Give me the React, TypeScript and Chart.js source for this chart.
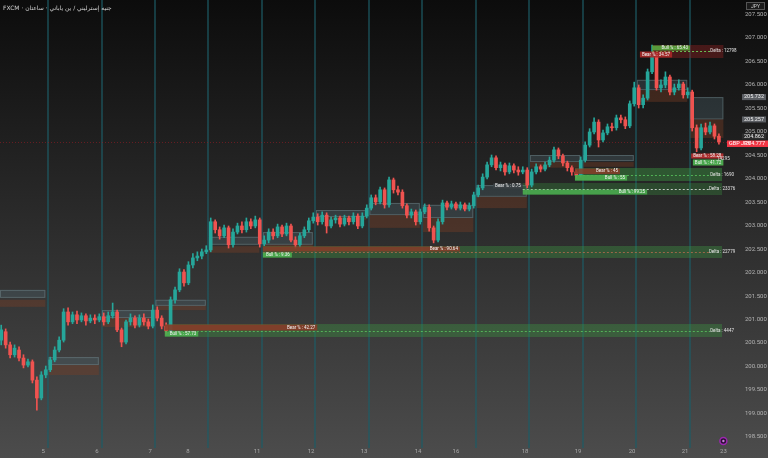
import React, { useEffect, useRef } from 'react';
import { Chart, registerables } from 'chart.js';

Chart.register(...registerables);

// ---------- candles (2H GBP/JPY) ----------
const OPEN = [
  200.56, 200.74, 200.46, 200.25, 200.35, 200.18, 200.03, 200.10, 199.71, 199.33,
  199.82, 199.93, 200.14, 200.35, 200.56, 201.16, 200.95, 201.10, 200.99, 201.08,
  200.97, 201.03, 200.99, 201.06, 200.95, 201.08, 201.16, 200.78, 200.52, 200.95,
  201.03, 200.88, 201.03, 200.95, 200.86, 201.20, 201.03, 200.86, 200.76, 201.42,
  201.63, 202.01, 201.78, 202.16, 202.31, 202.35, 202.44, 202.48, 203.08, 202.91,
  202.78, 202.95, 202.59, 202.86, 202.99, 202.91, 203.08, 202.99, 203.12, 202.61,
  202.69, 202.86, 202.78, 202.97, 202.82, 202.99, 202.69, 202.59, 202.78, 202.91,
  203.10, 203.18, 203.08, 203.22, 202.99, 203.12, 203.16, 203.03, 203.16, 203.08,
  203.20, 202.99, 203.20, 203.37, 203.59, 203.50, 203.76, 203.44, 203.97, 203.76,
  203.71, 203.42, 203.22, 203.29, 203.08, 203.29, 203.39, 202.95, 202.69, 203.08,
  203.48, 203.39, 203.46, 203.37, 203.44, 203.35, 203.42, 203.65, 203.80, 204.03,
  204.29, 204.44, 204.23, 204.29, 204.14, 204.27, 204.18, 204.14, 204.18, 203.86,
  204.14, 204.25, 204.20, 204.29, 204.39, 204.61, 204.48, 204.33, 204.23, 204.14,
  204.07, 204.39, 204.71, 204.99, 205.20, 204.82, 204.97, 205.10, 205.08, 205.29,
  205.25, 205.12, 205.59, 205.93, 205.57, 205.71, 206.27, 206.63, 205.93, 205.99,
  206.16, 205.84, 205.93, 206.01, 205.78, 205.84, 205.08, 204.65, 205.08, 204.99,
  205.12, 204.90,
];
const HIGH = [
  200.88, 200.80, 200.52, 200.46, 200.42, 200.25, 200.16, 200.14, 199.78, 199.89,
  200.01, 200.20, 200.42, 200.63, 201.23, 201.25, 201.16, 201.18, 201.14, 201.12,
  201.10, 201.10, 201.12, 201.14, 201.16, 201.35, 201.20, 200.82, 200.99, 201.12,
  201.08, 201.10, 201.12, 201.01, 201.31, 201.27, 201.08, 200.93, 201.48, 201.69,
  202.08, 202.06, 202.23, 202.40, 202.44, 202.50, 202.57, 203.16, 203.12, 202.97,
  203.01, 202.99, 202.93, 203.05, 203.08, 203.16, 203.14, 203.20, 203.16, 202.78,
  202.93, 202.93, 203.03, 203.01, 203.05, 203.03, 202.76, 202.84, 202.97, 203.16,
  203.27, 203.25, 203.29, 203.27, 203.18, 203.22, 203.20, 203.22, 203.20, 203.27,
  203.25, 203.27, 203.44, 203.65, 203.65, 203.82, 203.80, 204.03, 204.01, 203.84,
  203.76, 203.46, 203.35, 203.33, 203.35, 203.46, 203.44, 202.99, 203.14, 203.54,
  203.52, 203.52, 203.50, 203.50, 203.48, 203.48, 203.71, 203.86, 204.10, 204.35,
  204.50, 204.48, 204.35, 204.33, 204.33, 204.31, 204.25, 204.25, 204.23, 204.20,
  204.31, 204.29, 204.35, 204.46, 204.67, 204.65, 204.52, 204.37, 204.27, 204.18,
  204.46, 204.78, 205.06, 205.29, 205.25, 205.03, 205.16, 205.18, 205.35, 205.35,
  205.31, 205.65, 206.05, 205.99, 205.78, 206.33, 206.84, 206.69, 206.10, 206.27,
  206.20, 206.01, 206.10, 206.05, 205.93, 205.88, 205.14, 205.16, 205.18, 205.20,
  205.16, 204.95,
];
const LOW = [
  200.46, 200.39, 200.18, 200.20, 200.12, 199.97, 199.99, 199.65, 199.07, 199.29,
  199.76, 199.89, 200.10, 200.31, 200.52, 200.88, 200.91, 200.91, 200.95, 200.88,
  200.93, 200.91, 200.95, 200.88, 200.91, 201.03, 200.74, 200.42, 200.48, 200.88,
  200.82, 200.84, 200.88, 200.80, 200.82, 200.97, 200.80, 200.69, 200.71, 201.35,
  201.59, 201.71, 201.74, 202.10, 202.25, 202.29, 202.40, 202.44, 202.84, 202.71,
  202.74, 202.52, 202.54, 202.82, 202.84, 202.86, 202.93, 202.95, 202.54, 202.57,
  202.63, 202.71, 202.74, 202.76, 202.78, 202.65, 202.52, 202.54, 202.74, 202.86,
  203.05, 203.01, 203.03, 202.84, 202.95, 203.05, 202.97, 202.99, 203.01, 203.03,
  202.93, 202.95, 203.16, 203.33, 203.44, 203.46, 203.37, 203.39, 203.69, 203.65,
  203.37, 203.16, 203.16, 203.01, 203.03, 203.25, 202.88, 202.63, 202.65, 203.03,
  203.33, 203.35, 203.33, 203.33, 203.31, 203.31, 203.37, 203.61, 203.76, 203.99,
  204.25, 204.18, 204.16, 204.07, 204.10, 204.12, 204.07, 204.10, 203.80, 203.82,
  204.10, 204.14, 204.16, 204.25, 204.35, 204.42, 204.27, 204.16, 204.07, 204.01,
  204.03, 204.35, 204.67, 204.95, 204.67, 204.78, 204.93, 205.01, 205.03, 205.18,
  205.06, 205.08, 205.54, 205.50, 205.50, 205.67, 206.23, 205.88, 205.84, 205.93,
  205.78, 205.78, 205.88, 205.71, 205.71, 205.01, 204.57, 204.61, 204.93, 204.95,
  204.84, 204.73,
];
const CLOSE = [
  200.78, 200.46, 200.25, 200.39, 200.18, 200.03, 200.10, 199.71, 199.33, 199.82,
  199.93, 200.14, 200.35, 200.56, 201.16, 200.95, 201.10, 200.99, 201.08, 200.97,
  201.03, 200.99, 201.06, 200.95, 201.08, 201.16, 200.78, 200.52, 200.95, 201.03,
  200.88, 201.03, 200.95, 200.86, 201.20, 201.03, 200.86, 200.76, 201.42, 201.63,
  202.01, 201.78, 202.16, 202.31, 202.35, 202.44, 202.48, 203.08, 202.91, 202.78,
  202.95, 202.59, 202.86, 202.99, 202.91, 203.08, 202.99, 203.12, 202.61, 202.69,
  202.86, 202.78, 202.97, 202.82, 202.99, 202.69, 202.59, 202.78, 202.91, 203.10,
  203.18, 203.08, 203.22, 202.99, 203.12, 203.16, 203.03, 203.16, 203.08, 203.20,
  202.99, 203.20, 203.37, 203.59, 203.50, 203.76, 203.44, 203.97, 203.76, 203.71,
  203.42, 203.22, 203.29, 203.08, 203.29, 203.39, 202.95, 202.69, 203.08, 203.48,
  203.39, 203.46, 203.37, 203.44, 203.35, 203.42, 203.65, 203.80, 204.03, 204.29,
  204.44, 204.23, 204.29, 204.14, 204.27, 204.18, 204.14, 204.18, 203.86, 204.14,
  204.25, 204.20, 204.29, 204.39, 204.61, 204.48, 204.33, 204.23, 204.14, 204.07,
  204.39, 204.71, 204.99, 205.20, 204.82, 204.97, 205.10, 205.08, 205.29, 205.25,
  205.12, 205.59, 205.93, 205.57, 205.71, 206.27, 206.63, 205.93, 205.99, 206.16,
  205.84, 205.93, 206.01, 205.78, 205.84, 205.08, 204.65, 205.08, 204.99, 205.12,
  204.90, 204.78,
];

// ---------- axes ----------
const X_MIN = -0.27;
const X_MAX = 164.83;
const Y_MIN = 198.351;
const Y_MAX = 207.798;
const Y_TICKS = [198.5, 199, 199.5, 200, 200.5, 201, 201.5, 202, 202.5, 203, 203.5, 204, 204.5, 205, 205.5, 206, 206.5, 207, 207.5];
const X_TICKS = [9.4, 21.5, 33.4, 41.9, 57.4, 69.5, 81.4, 93.5, 102, 117.5, 129.4, 141.5, 153.4, 162];
const X_LABELS = ['5', '6', '7', '8', '11', '12', '13', '14', '16', '18', '19', '20', '21', '23'];
const DAY_BREAKS = [10.5, 22.5, 34.5, 46.5, 58.5, 70.5, 82.5, 94.5, 106.5, 118.5, 130.5, 142.5, 154.5];

// ---------- daily range boxes ----------
const BOX_START = [-0.3, 10.6, 22.6, 34.6, 46.6, 58.7, 70.6, 82.6, 94.6, 106.6, 118.6, 130.6, 142.6, 154.6];
const BOX_END = [9.9, 21.9, 33.9, 45.9, 57.9, 69.9, 81.9, 93.9, 105.9, 117.9, 129.9, 141.9, 153.9, 162.0];
const GRAY_TOP = [201.63, 200.20, 201.20, 201.42, 202.76, 202.86, 203.33, 203.48, 203.44, 203.86, 204.50, 204.50, 206.10, 205.732];
const GRAY_BOTTOM = [201.46, 200.03, 201.03, 201.29, 202.59, 202.59, 203.18, 203.22, 203.16, 203.61, 204.35, 204.37, 205.88, 205.257];
const BROWN_TOP = [201.42, 200.03, 201.03, 201.29, 202.56, 202.59, 203.18, 203.22, 203.16, 203.61, 204.35, 204.35, 205.88, 205.257];
const BROWN_BOTTOM = [201.27, 199.82, 200.84, 201.20, 202.42, 202.54, 203.12, 202.95, 202.86, 203.37, 204.23, 204.25, 205.63, 204.862];

// ---------- volume zones ----------
const ZONE_START = [36.7, 58.7, 128.7, 117.0, 146.0, 158.6];
const ZONE_END = [161.7, 161.7, 161.7, 161.7, 162.0, 162.0];
const ZONE_TOP = [200.904, 202.564, 204.223, 203.904, 206.841, 204.543];
const ZONE_MID = [200.755, 202.436, 204.085, 203.777, 206.713, 204.415];
const ZONE_BOTTOM = [200.628, 202.309, 203.947, 203.649, 206.564, 204.266];
const BEAR_PCT = ['42.27', '90.64', '45', '0.75', '34.57', '58.28'];
const BULL_PCT = ['57.73', '9.36', '55', '99.25', '65.43', '41.72'];
const BEAR_END = [70.9, 102.9, 138.8, 117.0, 150.5, 162.0];
const BULL_END = [44.2, 65.2, 140.4, 144.9, 154.5, 162.0];
const BULL_ON_TOP = [false, false, false, false, true, false];
const DELTA = ['Delta : 4447', 'Delta : 22779', 'Delta : 1690', 'Delta : 23376', 'Delta : 12798', '14295'];
const ZONE_FILL = ['rgba(60,150,66,0.38)', 'rgba(60,150,66,0.38)', 'rgba(60,150,66,0.45)', 'rgba(60,150,66,0.32)', 'rgba(150,36,36,0.40)', 'rgba(150,36,36,0.15)'];
const BEAR_FILL = ['rgba(135,60,40,0.9)', 'rgba(135,60,40,0.85)', 'rgba(135,60,40,0.85)', 'rgba(60,66,70,0.9)', 'rgba(170,40,40,0.9)', 'rgba(180,50,50,0.95)'];
const BULL_FILL = ['rgba(76,175,80,0.9)', 'rgba(76,175,80,0.9)', 'rgba(76,175,80,0.9)', 'rgba(76,175,80,0.85)', 'rgba(90,160,60,0.95)', 'rgba(76,175,80,0.95)'];
const MID_LINE = ['rgba(90,200,95,0.8)', 'rgba(200,110,80,0.7)', 'rgba(90,200,95,0.8)', 'rgba(235,235,235,0.8)', 'rgba(110,210,90,0.9)', 'rgba(0,0,0,0)'];

// ---------- price marks ----------
const MARK_PRICES = [205.732, 205.257, 204.862];
const MARK_BG = ['#5b5e63', '#5b5e63', '#2c2c2c'];
const LAST_PRICE = 204.777;
const SYMBOL = 'GBP JPY';
const HEADER = 'FXCM · جنيه إسترليني / ين ياباني · ساعتان';

const UP = '#26a69a';
const DOWN = '#ef5350';

const drawPlugin = {
  id: 'tvDecor',
  beforeDraw(chart: any) {
    const { ctx, width, height } = chart;
    const g = ctx.createLinearGradient(0, 0, 0, height);
    g.addColorStop(0, '#0c0c0c');
    g.addColorStop(1, '#4c4c4c');
    ctx.save();
    ctx.fillStyle = g;
    ctx.fillRect(0, 0, width, height);
    ctx.restore();
  },
  beforeDatasetsDraw(chart: any) {
    const { ctx, chartArea: ca } = chart;
    const xs = chart.scales.x;
    const ys = chart.scales.y;
    ctx.save();
    // session separators
    ctx.strokeStyle = 'rgba(28,92,102,0.6)';
    ctx.lineWidth = 2;
    DAY_BREAKS.forEach((b) => {
      const x = Math.round(xs.getPixelForValue(b));
      ctx.beginPath();
      ctx.moveTo(x, 0);
      ctx.lineTo(x, ca.bottom + 4);
      ctx.stroke();
    });
    // daily range boxes
    BOX_START.forEach((s, k) => {
      const xa = Math.max(ca.left, xs.getPixelForValue(s));
      const xb = xs.getPixelForValue(BOX_END[k]);
      const g1 = ys.getPixelForValue(GRAY_TOP[k]);
      const g2 = ys.getPixelForValue(GRAY_BOTTOM[k]);
      const b1 = ys.getPixelForValue(BROWN_TOP[k]);
      const b2 = ys.getPixelForValue(BROWN_BOTTOM[k]);
      ctx.fillStyle = 'rgba(78,104,112,0.32)';
      ctx.fillRect(xa, g1, xb - xa, g2 - g1);
      ctx.strokeStyle = 'rgba(125,150,155,0.4)';
      ctx.lineWidth = 1;
      ctx.strokeRect(xa + 0.5, g1 + 0.5, xb - xa - 1, g2 - g1 - 1);
      ctx.fillStyle = 'rgba(125,62,36,0.38)';
      ctx.fillRect(xa, b1, xb - xa, b2 - b1);
    });
    // zone fills
    ZONE_START.forEach((s, z) => {
      const xa = xs.getPixelForValue(s);
      const xb = xs.getPixelForValue(ZONE_END[z]);
      const yt = ys.getPixelForValue(ZONE_TOP[z]);
      const yb = ys.getPixelForValue(ZONE_BOTTOM[z]);
      ctx.fillStyle = ZONE_FILL[z];
      ctx.fillRect(xa, yt, xb - xa, yb - yt);
    });
    // last price line
    const yl = Math.round(ys.getPixelForValue(LAST_PRICE)) + 0.5;
    ctx.strokeStyle = 'rgba(150,28,36,0.6)';
    ctx.lineWidth = 1;
    ctx.setLineDash([1, 2]);
    ctx.beginPath();
    ctx.moveTo(ca.left, yl);
    ctx.lineTo(ca.right, yl);
    ctx.stroke();
    ctx.setLineDash([]);
    ctx.restore();
  },
  afterDatasetsDraw(chart: any) {
    const { ctx } = chart;
    const xs = chart.scales.x;
    const ys = chart.scales.y;
    ctx.save();
    ctx.font = '4.5px Roboto';
    ctx.textBaseline = 'middle';
    ZONE_START.forEach((s, z) => {
      const xa = xs.getPixelForValue(s);
      const xb = xs.getPixelForValue(ZONE_END[z]);
      const yt = ys.getPixelForValue(ZONE_TOP[z]);
      const ym = ys.getPixelForValue(ZONE_MID[z]);
      const yb = ys.getPixelForValue(ZONE_BOTTOM[z]);
      // mid dashed line
      ctx.strokeStyle = MID_LINE[z];
      ctx.lineWidth = 1;
      ctx.setLineDash([2, 2]);
      ctx.beginPath();
      ctx.moveTo(xa, Math.round(ym) + 0.5);
      ctx.lineTo(xb - 12, Math.round(ym) + 0.5);
      ctx.stroke();
      ctx.setLineDash([]);
      const bullTop = BULL_ON_TOP[z];
      const parts = [
        { end: BEAR_END[z], text: 'Bear % : ' + BEAR_PCT[z], fill: BEAR_FILL[z], y1: bullTop ? ym : yt, y2: bullTop ? yb : ym },
        { end: BULL_END[z], text: 'Bull % : ' + BULL_PCT[z], fill: BULL_FILL[z], y1: bullTop ? yt : ym, y2: bullTop ? ym : yb },
      ];
      parts.forEach((p) => {
        const xe = xs.getPixelForValue(p.end);
        const tw = ctx.measureText(p.text).width;
        const left = Math.min(xa, xe - tw - 4);
        ctx.fillStyle = p.fill;
        ctx.fillRect(left, p.y1 + 0.5, xe - left, p.y2 - p.y1 - 1);
        ctx.fillStyle = '#f2f2f2';
        ctx.textAlign = 'right';
        ctx.fillText(p.text, xe - 2, (p.y1 + p.y2) / 2);
      });
      ctx.textAlign = 'center';
      ctx.fillStyle = '#e6e6e6';
      ctx.fillText(DELTA[z], xb, ym);
    });
    ctx.restore();
  },
  afterDraw(chart: any) {
    const { ctx, width, chartArea: ca } = chart;
    const xs = chart.scales.x;
    const ys = chart.scales.y;
    ctx.save();
    // header
    ctx.font = '6px "DejaVu Sans"';
    ctx.textBaseline = 'middle';
    ctx.textAlign = 'left';
    ctx.fillStyle = '#cfcfcf';
    ctx.fillText(HEADER, 3, 8);
    // currency box
    ctx.fillStyle = '#1b1b1b';
    ctx.fillRect(746, 2, 19, 8);
    ctx.strokeStyle = '#555';
    ctx.strokeRect(746.5, 2.5, 18, 7);
    ctx.fillStyle = '#d0d0d0';
    ctx.font = '5px Roboto';
    ctx.textAlign = 'center';
    ctx.fillText('JPY', 755.5, 6.5);
    // price marks
    ctx.font = '5.5px Roboto';
    MARK_PRICES.forEach((p, k) => {
      const y = ys.getPixelForValue(p) - (k === 2 ? 1.5 : 0);
      ctx.fillStyle = MARK_BG[k];
      ctx.fillRect(742, y - 3, 24, 6);
      ctx.fillStyle = '#f0f0f0';
      ctx.textAlign = 'center';
      ctx.fillText(p.toFixed(3), 754, y);
    });
    const yl = ys.getPixelForValue(LAST_PRICE) + 1.5;
    ctx.fillStyle = '#f23645';
    ctx.fillRect(727, yl - 3, width - 727, 6.5);
    ctx.fillStyle = '#ffffff';
    ctx.textAlign = 'left';
    ctx.fillText(SYMBOL, 729, yl);
    ctx.textAlign = 'right';
    ctx.fillText(LAST_PRICE.toFixed(3), 765, yl);
    // event marker
    const xm = xs.getPixelForValue(162);
    const ymk = ca.bottom - 3;
    ctx.beginPath();
    ctx.arc(xm, ymk, 3.5, 0, Math.PI * 2);
    ctx.fillStyle = '#2a0f33';
    ctx.fill();
    ctx.lineWidth = 1.5;
    ctx.strokeStyle = '#9c27b0';
    ctx.stroke();
    ctx.beginPath();
    ctx.arc(xm, ymk, 1.2, 0, Math.PI * 2);
    ctx.fillStyle = '#c77dd8';
    ctx.fill();
    ctx.restore();
  },
};

export default function App() {
  const ref = useRef<HTMLCanvasElement>(null);
  useEffect(() => {
    document.body.style.margin = '0';
    document.body.style.background = '#2a2a2a';
    const canvas = ref.current;
    if (!canvas) return;
    const idx = CLOSE.map((_, i) => i);
    const colors = idx.map((i) => (CLOSE[i] >= OPEN[i] ? UP : DOWN));
    const chart = new Chart(canvas, {
      type: 'bar',
      data: {
        datasets: [
          {
            label: 'wick',
            data: idx.map((i) => ({ x: i, y: [LOW[i], HIGH[i]] })) as any,
            backgroundColor: colors,
            barThickness: 1,
            grouped: false,
            order: 2,
          } as any,
          {
            label: 'body',
            data: idx.map((i) => ({ x: i, y: [OPEN[i], CLOSE[i]] })) as any,
            backgroundColor: colors,
            barThickness: 3,
            minBarLength: 1,
            grouped: false,
            order: 1,
          } as any,
        ],
      },
      options: {
        responsive: false,
        animation: false,
        events: [],
        layout: { padding: 0 },
        plugins: { legend: { display: false }, tooltip: { enabled: false } },
        scales: {
          x: {
            type: 'linear',
            min: X_MIN,
            max: X_MAX,
            offset: false,
            grid: { display: false, drawTicks: false },
            border: { display: false },
            afterBuildTicks: (s: any) => {
              s.ticks = X_TICKS.map((v) => ({ value: v }));
            },
            afterFit: (s: any) => {
              s.height = 14;
              s.paddingLeft = 0;
              s.paddingRight = 0;
              s.paddingTop = 0;
              s.paddingBottom = 0;
            },
            ticks: {
              autoSkip: false,
              maxRotation: 0,
              padding: 4,
              color: '#a8a8a8',
              font: { size: 6, family: 'Roboto' },
              callback: (v: any) => {
                const k = X_TICKS.indexOf(Number(v));
                return k >= 0 ? X_LABELS[k] : '';
              },
            },
          },
          y: {
            type: 'linear',
            position: 'right',
            min: Y_MIN,
            max: Y_MAX,
            grid: { display: false, drawTicks: false },
            border: { display: false },
            afterBuildTicks: (s: any) => {
              s.ticks = Y_TICKS.map((v) => ({ value: v }));
            },
            afterFit: (s: any) => {
              s.width = 32;
              s.paddingTop = 0;
              s.paddingBottom = 0;
              s.paddingLeft = 0;
              s.paddingRight = 0;
            },
            ticks: {
              padding: 9,
              color: '#b4b4b4',
              font: { size: 6, family: 'Roboto' },
              callback: (v: any) => Number(v).toFixed(3),
            },
          },
        },
      } as any,
      plugins: [drawPlugin],
    });
    return () => chart.destroy();
  }, []);
  return (
    <div style={{ width: 768, height: 458 }}>
      <canvas ref={ref} width={768} height={458} style={{ display: 'block', width: 768, height: 458 }} />
    </div>
  );
}
